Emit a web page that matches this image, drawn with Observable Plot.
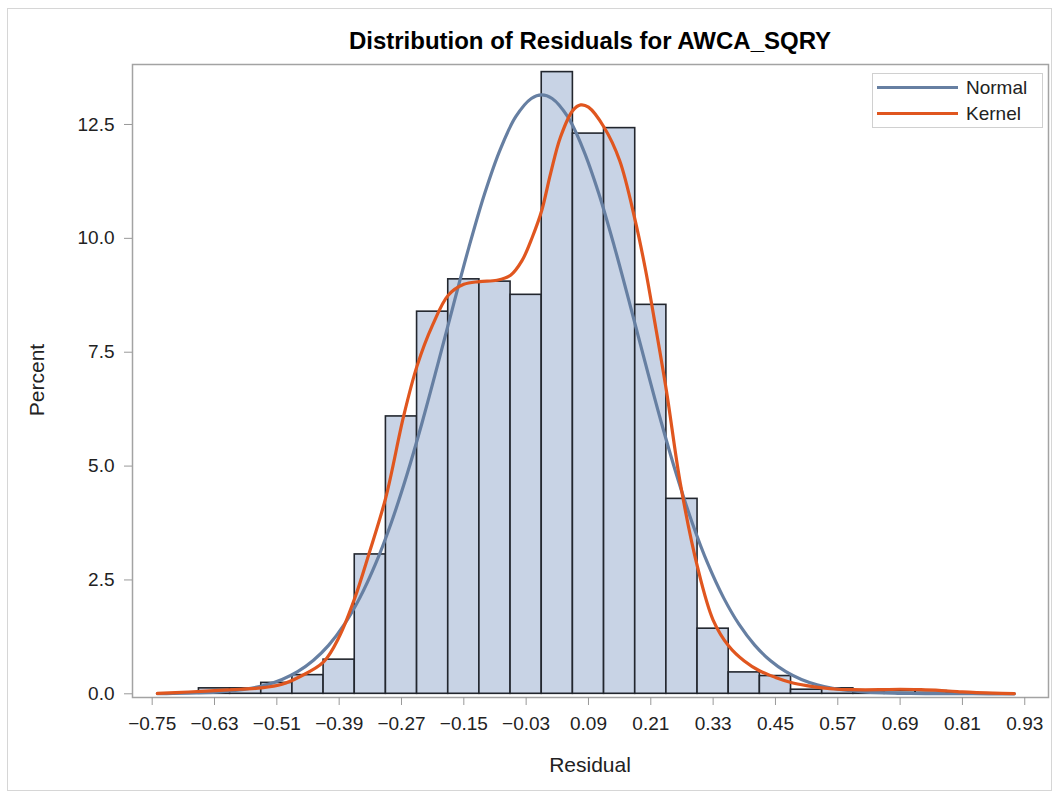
<!DOCTYPE html>
<html>
<head>
<meta charset="utf-8">
<script src="https://cdn.jsdelivr.net/npm/d3@7"></script>
<script src="https://cdn.jsdelivr.net/npm/@observablehq/plot@0.6"></script>
<style>
  html, body { margin: 0; padding: 0; background: #fff; }
  #wrap { position: relative; width: 1057px; height: 793px; font-family: "Liberation Sans", Arial, sans-serif; color: #222; }
  #border { position: absolute; left: 7px; top: 8px; width: 1045px; height: 783px; border: 1px solid #d6d6d6; box-sizing: border-box; }
  #title { position: absolute; left: 132px; width: 916px; top: 27px; line-height: 28px; text-align: center; font-weight: bold; font-size: 24px; color: #000; }
  #chart { position: absolute; left: 0; top: 54px; }
  #ylabel { position: absolute; left: 37px; top: 380px; transform: translate(-50%, -50%) rotate(-90deg); font-size: 21px; white-space: nowrap; }
  #xlabel { position: absolute; left: 590px; top: 765px; transform: translate(-50%, -50%); font-size: 21px; white-space: nowrap; }
  #legend { position: absolute; left: 872px; top: 73px; width: 171px; height: 55px; border: 1px solid #d0d0d0; box-sizing: border-box; background: #fff; }
  #legend .row { position: absolute; left: 0; height: 26px; line-height: 26px; font-size: 19px; white-space: nowrap; }
  #legend .sw { position: absolute; left: 4px; top: 11px; width: 81px; height: 3px; }
  #legend .lab { position: absolute; left: 93px; top: 0; }
</style>
</head>
<body>
<div id="wrap">
  <div id="border"></div>
  <div id="title">Distribution of Residuals for AWCA_SQRY</div>
  <div id="chart"></div>
  <div id="ylabel">Percent</div>
  <div id="xlabel">Residual</div>
  <div id="legend">
    <div class="row" style="top:1px"><div class="sw" style="background:#667fa2"></div><div class="lab">Normal</div></div>
    <div class="row" style="top:27px"><div class="sw" style="background:#e0561f"></div><div class="lab">Kernel</div></div>
  </div>
</div>
<script>
// Histogram bins (bin midpoints) and their percentages
const binCenters = [-0.63, -0.57, -0.51, -0.45, -0.39, -0.33, -0.27, -0.21, -0.15, -0.09, -0.03, 0.03, 0.09, 0.15, 0.21, 0.27, 0.33, 0.39, 0.45, 0.51, 0.57, 0.63, 0.69, 0.75, 0.81];
const binPercents = [0.12, 0.12, 0.24, 0.41, 0.75, 3.06, 6.09, 8.39, 9.10, 9.05, 8.76, 13.65, 12.30, 12.42, 8.54, 4.28, 1.43, 0.47, 0.39, 0.09, 0.12, 0.03, 0.06, 0.06, 0.03];
const binWidth = 0.06;

// Normal density curve (percent scale)
const normalX = [-0.74, -0.71, -0.68, -0.65, -0.62, -0.59, -0.56, -0.53, -0.50, -0.47, -0.44, -0.41, -0.38, -0.35, -0.32, -0.29, -0.26, -0.23, -0.20, -0.17, -0.14, -0.11, -0.08, -0.05, -0.02, 0.0, 0.02, 0.05, 0.08, 0.11, 0.14, 0.17, 0.20, 0.23, 0.26, 0.29, 0.32, 0.35, 0.38, 0.41, 0.44, 0.47, 0.50, 0.53, 0.56, 0.59, 0.62, 0.65, 0.68, 0.71, 0.74, 0.77, 0.80, 0.83, 0.86, 0.89, 0.91];
const normalY = [0.004, 0.007, 0.013, 0.024, 0.042, 0.073, 0.122, 0.198, 0.315, 0.486, 0.731, 1.069, 1.523, 2.112, 2.851, 3.746, 4.793, 5.969, 7.238, 8.541, 9.814, 10.98, 11.95, 12.67, 13.07, 13.15, 13.07, 12.67, 11.95, 10.98, 9.814, 8.541, 7.238, 5.969, 4.793, 3.746, 2.851, 2.112, 1.523, 1.069, 0.731, 0.486, 0.315, 0.198, 0.122, 0.073, 0.042, 0.024, 0.013, 0.007, 0.004, 0.002, 0.001, 0.001, 0, 0, 0];

// Kernel density curve (percent scale)
const kernelX = [-0.74, -0.68, -0.63, -0.58, -0.54, -0.50, -0.465, -0.42, -0.39, -0.36, -0.333, -0.30, -0.266, -0.24, -0.21, -0.18, -0.15, -0.12, -0.086, -0.06, -0.038, -0.018, 0.0, 0.017, 0.036, 0.06, 0.075, 0.09, 0.12, 0.15, 0.18, 0.20, 0.216, 0.24, 0.267, 0.30, 0.33, 0.36, 0.39, 0.42, 0.45, 0.48, 0.51, 0.54, 0.57, 0.60, 0.65, 0.69, 0.73, 0.77, 0.80, 0.83, 0.87, 0.91];
const kernelY = [0.01, 0.04, 0.07, 0.10, 0.13, 0.21, 0.38, 0.70, 1.25, 2.10, 3.06, 4.32, 6.09, 7.20, 8.10, 8.75, 8.99, 9.05, 9.08, 9.19, 9.51, 10.03, 10.61, 11.42, 12.22, 12.81, 12.93, 12.88, 12.44, 11.71, 10.39, 9.30, 8.27, 6.66, 4.61, 2.78, 1.62, 1.05, 0.72, 0.50, 0.36, 0.25, 0.18, 0.13, 0.10, 0.09, 0.09, 0.10, 0.09, 0.07, 0.05, 0.03, 0.015, 0.005];

// Tick labels
const xTicks = [-0.75, -0.63, -0.51, -0.39, -0.27, -0.15, -0.03, 0.09, 0.21, 0.33, 0.45, 0.57, 0.69, 0.81, 0.93];
const yTicks = [0, 2.5, 5, 7.5, 10, 12.5];

const bins = binCenters.map((c, i) => ({x1: c - binWidth / 2, x2: c + binWidth / 2, pct: binPercents[i]}));
const normal = normalX.map((x, i) => ({x, y: normalY[i]}));
const kernel = kernelX.map((x, i) => ({x, y: kernelY[i]}));

const chart = Plot.plot({
  width: 1057,
  height: 739,
  marginTop: 10,
  marginBottom: 96,
  marginLeft: 132,
  marginRight: 9,
  x: {domain: [-0.7879, 0.9757]},
  y: {domain: [-0.081, 13.817]},
  style: {fontFamily: "'Liberation Sans', Arial, sans-serif", fontSize: "19px", color: "#222", background: "transparent", overflow: "visible"},
  marks: [
    Plot.rectY(bins, {x1: "x1", x2: "x2", y1: 0, y2: "pct", fill: "#c8d3e5", stroke: "#22262e", strokeWidth: 1.6}),
    Plot.line(normal, {x: "x", y: "y", stroke: "#667fa2", strokeWidth: 3.2, curve: "catmull-rom"}),
    Plot.line(kernel, {x: "x", y: "y", stroke: "#e0561f", strokeWidth: 3.2, curve: "catmull-rom"}),
    Plot.frame({stroke: "#a3a3a3", strokeWidth: 1.5}),
    Plot.axisY({ticks: yTicks, tickFormat: d3.format(".1f"), tickSize: 8, tickPadding: 10, label: null, stroke: "#999", fill: "#222"}),
    Plot.axisX({ticks: xTicks, tickFormat: d3.format(".2f"), tickSize: 8, tickPadding: 11, label: null, stroke: "#999", fill: "#222"})
  ]
});
document.getElementById("chart").appendChild(chart);
</script>
</body>
</html>
